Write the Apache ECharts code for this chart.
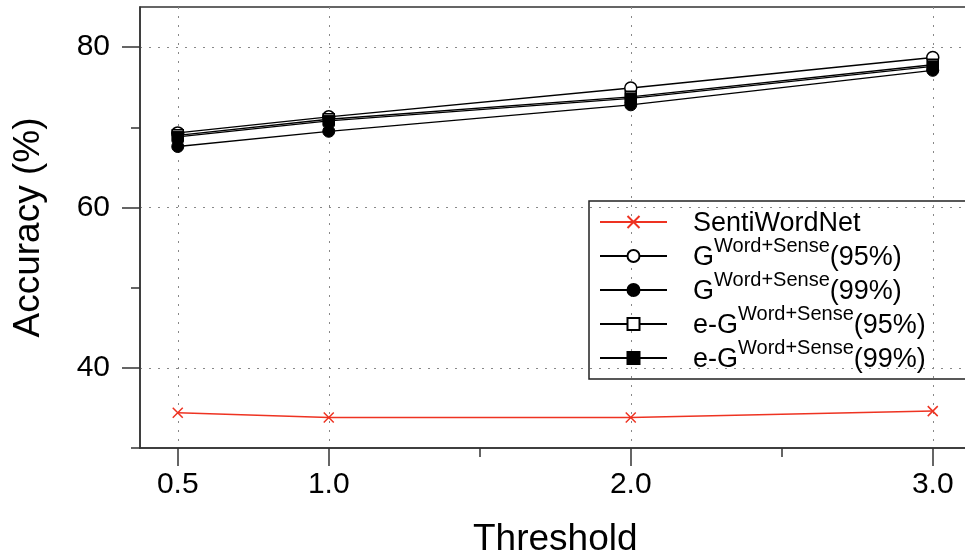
<!DOCTYPE html>
<html>
<head>
<meta charset="utf-8">
<script src="https://cdn.jsdelivr.net/npm/echarts@6/dist/echarts.min.js"></script>
<style>
html,body{margin:0;padding:0;background:#fff;}
#chart{width:965px;height:555px;}
</style>
</head>
<body>
<div id="chart"></div>
<script>
// ---- data ----
const thresholds = [0.5, 1.0, 2.0, 3.0];
const sentiWordNet = [34.4, 33.8, 33.8, 34.6];
const gWordSense95 = [69.3, 71.3, 74.9, 78.7];
const gWordSense99 = [67.6, 69.5, 72.8, 77.1];
const egWordSense95 = [69.0, 71.0, 73.8, 77.8];
const egWordSense99 = [68.8, 70.8, 73.6, 77.6];

const xTickValues = [0.5, 1.0, 2.0, 3.0];
const xTickLabels = ['0.5', '1.0', '2.0', '3.0'];
const xMinorTicks = [1.5, 2.5];
const yTickValues = [40, 60, 80];
const yTickLabels = ['40', '60', '80'];
const yMinorTicks = [30, 50, 70];

const seriesNames = ['SentiWordNet', 'G95', 'G99', 'eG95', 'eG99'];
const legendBase = ['SentiWordNet', 'G', 'G', 'e-G', 'e-G'];
const legendSup = ['', 'Word+Sense', 'Word+Sense', 'Word+Sense', 'Word+Sense'];
const legendTail = ['', '(95%)', '(99%)', '(95%)', '(99%)'];

const xName = 'Threshold';
const yName = 'Accuracy (%)';

// ---- chart ----
const FONT = '"Liberation Sans", Arial, Helvetica, sans-serif';
const AX = '#333';
const RED = '#ee3322';
const pairs = vals => thresholds.map((t, i) => [t, vals[i]]);

const chart = echarts.init(document.getElementById('chart'), null, {renderer: 'canvas'});

const gridLine = {show: true, lineStyle: {color: '#888', width: 1, type: [2, 7]}};

const option = {
  animation: false,
  backgroundColor: '#fff',
  textStyle: {fontFamily: FONT},
  grid: {left: 140, top: 7, width: 830.5, height: 441, show: true,
         outerBoundsMode: 'none', containLabel: false,
         borderColor: AX, borderWidth: 1.5, backgroundColor: 'transparent'},
  xAxis: [
    {
      type: 'value', min: 0.375, max: 3.125, position: 'bottom',
      axisLine: {show: true, lineStyle: {color: AX, width: 1.5}},
      axisTick: {show: true, customValues: xTickValues, length: 18, lineStyle: {color: AX, width: 1.5}},
      axisLabel: {customValues: xTickValues,
        formatter: v => { const i = xTickValues.findIndex(t => Math.abs(t - v) < 1e-9); return i >= 0 ? xTickLabels[i] : ''; },
        fontSize: 30, color: '#000', margin: 22, fontFamily: FONT},
      splitLine: gridLine,
      name: xName, nameLocation: 'middle', nameGap: 73,
      nameTextStyle: {fontSize: 37, color: '#000', fontFamily: FONT}
    },
    {
      type: 'value', min: 0.375, max: 3.125, position: 'bottom',
      axisLine: {show: false},
      axisTick: {show: true, customValues: xMinorTicks, length: 9, lineStyle: {color: AX, width: 1.5}},
      axisLabel: {show: false},
      splitLine: {show: false}
    }
  ],
  yAxis: [
    {
      type: 'value', min: 30, max: 85, position: 'left',
      axisLine: {show: true, lineStyle: {color: AX, width: 1.5}},
      axisTick: {show: true, customValues: yTickValues, length: 18, lineStyle: {color: AX, width: 1.5}},
      axisLabel: {customValues: yTickValues,
        formatter: v => { const i = yTickValues.findIndex(t => Math.abs(t - v) < 1e-9); return i >= 0 ? yTickLabels[i] : ''; },
        fontSize: 30, color: '#000', margin: 30, fontFamily: FONT},
      splitLine: gridLine,
      name: yName, nameLocation: 'middle', nameGap: 93, nameRotate: 90,
      nameTextStyle: {fontSize: 37, color: '#000', fontFamily: FONT}
    },
    {
      type: 'value', min: 30, max: 85, position: 'left',
      axisLine: {show: false},
      axisTick: {show: true, customValues: yMinorTicks, length: 9, lineStyle: {color: AX, width: 1.5}},
      axisLabel: {show: false},
      splitLine: {show: false}
    }
  ],
  legend: {
    orient: 'vertical', left: 589, top: 201,
    itemWidth: 67, itemHeight: 15, itemGap: -3,
    padding: [4, 40, 4, 10],
    borderColor: '#222', borderWidth: 1.5, borderRadius: 0,
    backgroundColor: 'transparent',
    data: seriesNames,
    formatter: name => {
      const i = seriesNames.indexOf(name);
      let s = '{a|' + legendBase[i] + '}';
      if (legendSup[i]) s += '{s|' + legendSup[i] + '}';
      if (legendTail[i]) s += '{b|' + legendTail[i] + '}';
      return s;
    },
    textStyle: {
      fontFamily: FONT, fontSize: 27, color: '#000', lineHeight: 34,
      rich: {
        a: {fontFamily: FONT, fontSize: 27, color: '#000', lineHeight: 34, verticalAlign: 'bottom', padding: [0, 0, 2, 21]},
        s: {fontFamily: FONT, fontSize: 20, color: '#000', lineHeight: 34, verticalAlign: 'top', height: 14},
        b: {fontFamily: FONT, fontSize: 27, color: '#000', lineHeight: 34, verticalAlign: 'bottom', padding: [0, 0, 2, 0]}
      }
    }
  },
  series: [
    {
      name: seriesNames[0], type: 'line', data: pairs(sentiWordNet),
      symbol: 'path://M0,0L10,10M0,10L10,0', symbolSize: 10,
      lineStyle: {color: RED, width: 1.5},
      itemStyle: {color: RED, borderColor: RED, borderWidth: 1.5}
    },
    {
      name: seriesNames[1], type: 'line', data: pairs(gWordSense95),
      symbol: 'circle', symbolSize: 12,
      lineStyle: {color: '#000', width: 1.3},
      itemStyle: {color: '#fff', borderColor: '#000', borderWidth: 1.5}
    },
    {
      name: seriesNames[2], type: 'line', data: pairs(gWordSense99),
      symbol: 'circle', symbolSize: 12,
      lineStyle: {color: '#000', width: 1.3},
      itemStyle: {color: '#000', borderColor: '#000', borderWidth: 1}
    },
    {
      name: seriesNames[3], type: 'line', data: pairs(egWordSense95),
      symbol: 'rect', symbolSize: 11,
      lineStyle: {color: '#000', width: 1.3},
      itemStyle: {color: '#fff', borderColor: '#000', borderWidth: 1.5}
    },
    {
      name: seriesNames[4], type: 'line', data: pairs(egWordSense99),
      symbol: 'rect', symbolSize: 11,
      lineStyle: {color: '#000', width: 1.3},
      itemStyle: {color: '#000', borderColor: '#000', borderWidth: 1}
    }
  ]
};
chart.setOption(option);
</script>
</body>
</html>
